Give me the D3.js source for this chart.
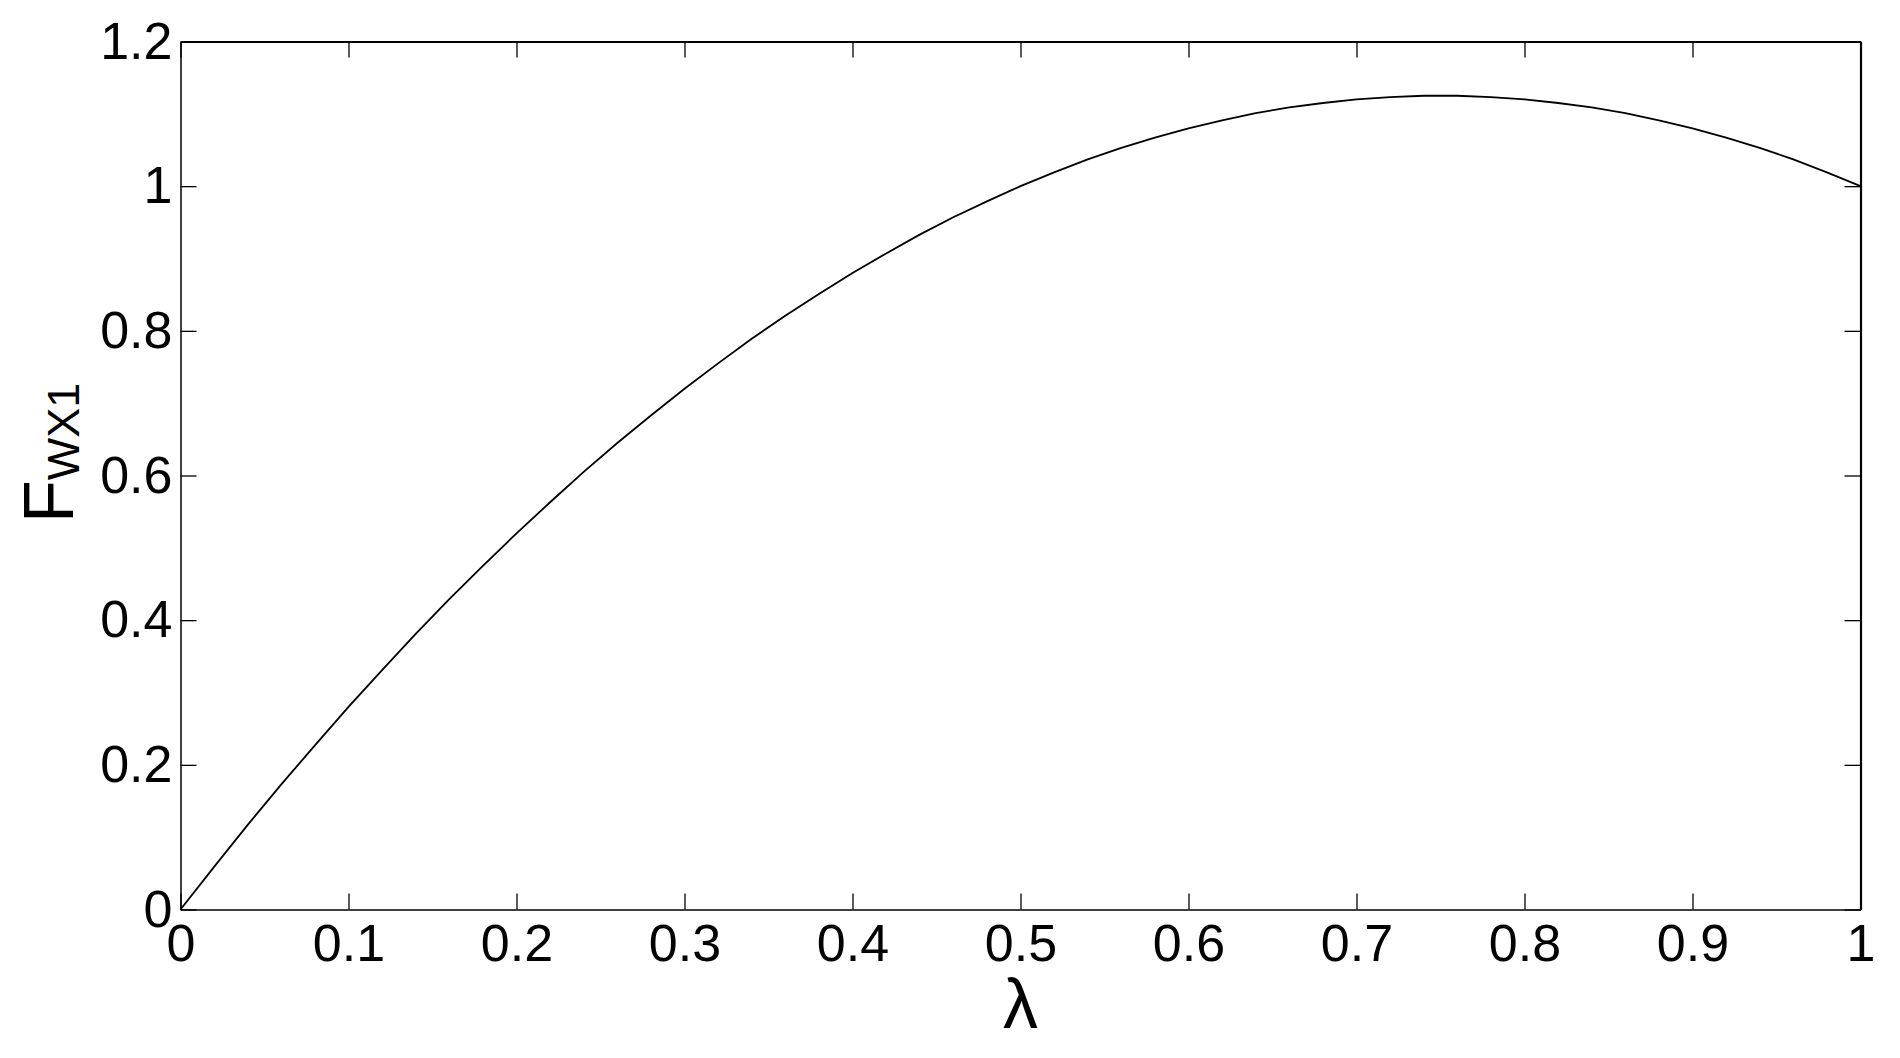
<!DOCTYPE html>
<html>
<head>
<meta charset="utf-8">
<script src="https://cdn.jsdelivr.net/npm/d3@7"></script>
<style>
  html, body { margin: 0; padding: 0; background: #fff; }
  svg text { font-family: "Liberation Sans", Arial, sans-serif; fill: #000; }
</style>
</head>
<body>
<div id="chart"></div>
<script>
// lambda values (x) and F_WX1 values (y)
const lambda = [0, 0.02, 0.04, 0.06, 0.08, 0.10, 0.12, 0.14, 0.16, 0.18,
  0.20, 0.22, 0.24, 0.26, 0.28, 0.30, 0.32, 0.34, 0.36, 0.38,
  0.40, 0.42, 0.44, 0.46, 0.48, 0.50, 0.52, 0.54, 0.56, 0.58,
  0.60, 0.62, 0.64, 0.66, 0.68, 0.70, 0.72, 0.74, 0.76, 0.78,
  0.80, 0.82, 0.84, 0.86, 0.88, 0.90, 0.92, 0.94, 0.96, 0.98, 1.00];
const fwx1 = [0, 0.059, 0.117, 0.173, 0.227, 0.280, 0.331, 0.381, 0.429, 0.475,
  0.520, 0.563, 0.605, 0.645, 0.683, 0.720, 0.755, 0.789, 0.821, 0.851,
  0.880, 0.907, 0.933, 0.957, 0.979, 1.000, 1.019, 1.037, 1.053, 1.067,
  1.080, 1.091, 1.101, 1.109, 1.115, 1.120, 1.123, 1.125, 1.125, 1.123,
  1.120, 1.115, 1.109, 1.101, 1.091, 1.080, 1.067, 1.053, 1.037, 1.019, 1.000];

const xTicks = [0, 0.1, 0.2, 0.3, 0.4, 0.5, 0.6, 0.7, 0.8, 0.9, 1];
const yTicks = [0, 0.2, 0.4, 0.6, 0.8, 1, 1.2];

const W = 1900, H = 1058;
const plotL = 180.5, plotR = 1860.5, plotT = 41.5, plotB = 909.5;

const svg = d3.select("#chart").append("svg")
    .attr("width", W)
    .attr("height", H);

const x = d3.scaleLinear().domain([0, 1]).range([plotL, plotR]);
const y = d3.scaleLinear().domain([0, 1.2]).range([plotB, plotT]);

// bottom axis with labels, ticks pointing inward
const xAxis = svg.append("g")
    .attr("transform", `translate(0,${plotB})`)
    .call(d3.axisBottom(x).tickValues(xTicks).tickFormat(d3.format("~g"))
        .tickSizeInner(-16).tickSizeOuter(0).tickPadding(15));

const yAxis = svg.append("g")
    .attr("transform", `translate(${plotL},0)`)
    .call(d3.axisLeft(y).tickValues(yTicks).tickFormat(d3.format("~g"))
        .tickSizeInner(-16).tickSizeOuter(0).tickPadding(8));

// top and right: ticks only
const xTop = svg.append("g")
    .attr("transform", `translate(0,${plotT})`)
    .call(d3.axisTop(x).tickValues(xTicks).tickFormat("")
        .tickSizeInner(-16).tickSizeOuter(0));

const yRight = svg.append("g")
    .attr("transform", `translate(${plotR},0)`)
    .call(d3.axisRight(y).tickValues(yTicks).tickFormat("")
        .tickSizeInner(-16).tickSizeOuter(0));

[xAxis, yAxis, xTop, yRight].forEach(g => {
    g.selectAll("line").attr("stroke", "#000").attr("stroke-width", 1.3);
    g.select(".domain").attr("stroke", "#000").attr("stroke-width", 1.5);
    g.selectAll("text").attr("font-size", 52).attr("font-family", null);
});
xTop.select(".domain").attr("stroke-width", 2.2);
yRight.select(".domain").attr("stroke-width", 2.2);

// the curve
const line = d3.line()
    .x((d, i) => x(lambda[i]))
    .y(d => y(d));

svg.append("path")
    .datum(fwx1)
    .attr("fill", "none")
    .attr("stroke", "#000")
    .attr("stroke-width", 1.8)
    .attr("stroke-linejoin", "round")
    .attr("d", line);

// axis titles
svg.append("text")
    .attr("x", (plotL + plotR) / 2)
    .attr("y", 1028)
    .attr("text-anchor", "middle")
    .attr("font-size", 70)
    .text("λ");

const yTitle = svg.append("text")
    .attr("transform", "translate(73,523) rotate(-90)")
    .attr("font-size", 70);
yTitle.append("tspan").text("F");
yTitle.append("tspan")
    .attr("font-size", 45)
    .attr("dy", 6)
    .text("WX1");
</script>
</body>
</html>
